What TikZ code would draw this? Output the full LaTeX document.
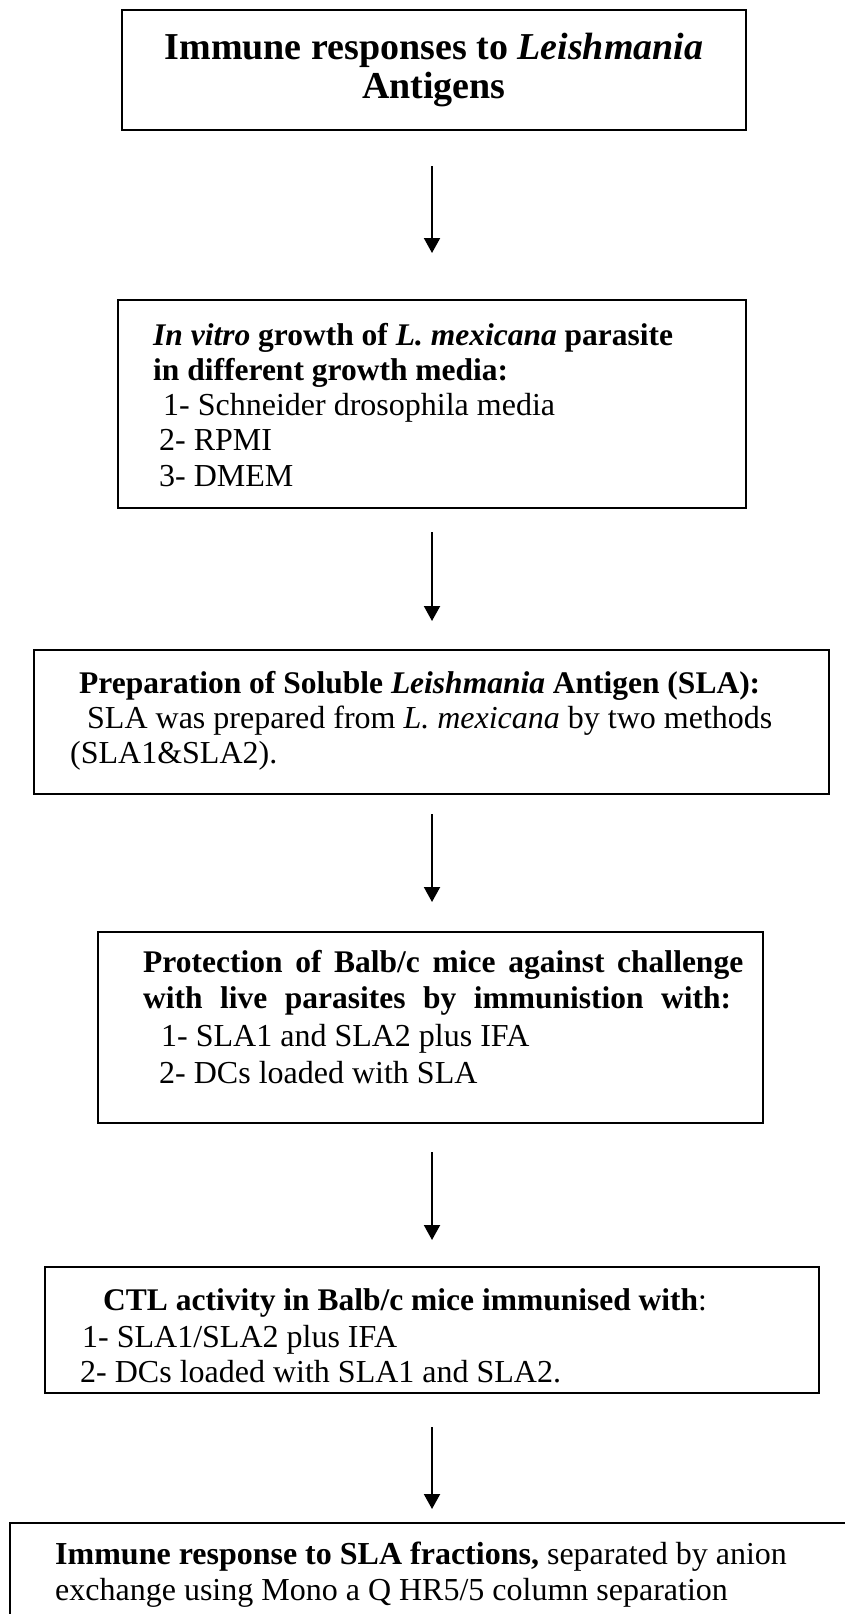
\documentclass[tikz,border=0pt]{standalone}
\usepackage{fontspec}
\setmainfont{Liberation Serif}
\usetikzlibrary{arrows.meta}
\begin{document}
\begin{tikzpicture}[x=1pt,y=-1pt,
  box/.style={draw, line width=2pt, rectangle, inner sep=0pt},
  ln/.style={anchor=base west, inner sep=0pt, font=\fontsize{32}{36}\selectfont},
  bl/.style={anchor=base west, inner sep=0pt, font=\fontsize{31.5}{36}\selectfont\bfseries},
  ttl/.style={anchor=base, inner sep=0pt, font=\fontsize{38}{42}\selectfont\bfseries},
  arr/.style={line width=2pt, -{Triangle[width=16pt,length=15pt]}}]
\clip (0,0) rectangle (845,1614);
\fill[white] (0,0) rectangle (845,1614);

% boxes
\node[box, minimum width=624, minimum height=120] (b1) at (434,70) {};
\node[box, minimum width=628, minimum height=208] (b2) at (432,404) {};
\node[box, minimum width=795, minimum height=144] (b3) at (431.5,722) {};
\node[box, minimum width=665, minimum height=191] (b4) at (430.5,1027.5) {};
\node[box, minimum width=774, minimum height=126] (b5) at (432,1330) {};
\node[box, minimum width=860, minimum height=127] (b6) at (440,1586.5) {};

% title
\node[ttl] (t1) at (434,59) {Immune responses to \textit{Leishmania}};
\node[ttl] (t2) at (434,98) {Antigens};

% growth media
\node[bl] (g1) at (153,345) {\textit{In vitro} growth of \textit{L. mexicana} parasite};
\node[bl] (g2) at (153,380) {in different growth media:};
\node[ln] (g3) at (163,415) {1- Schneider drosophila media};
\node[ln] (g4) at (159,450) {2- RPMI};
\node[ln] (g5) at (159,486) {3- DMEM};

% SLA preparation
\node[bl] (p1) at (79,693) {Preparation of Soluble \textit{Leishmania} Antigen (SLA):};
\node[ln] (p2) at (87,728) {SLA was prepared from \textit{L. mexicana} by two methods};
\node[ln] (p3) at (70,763) {(SLA1\&SLA2).};

% protection
\node[bl] (r1) at (143,972) {\makebox[600pt][s]{Protection of Balb/c mice against challenge}};
\node[bl] (r2) at (143,1008) {\makebox[588pt][s]{with live parasites by immunistion with:}};
\node[ln] (r3) at (161,1046) {1- SLA1 and SLA2 plus IFA};
\node[ln] (r4) at (159,1083) {2- DCs loaded with SLA};

% CTL activity
\node[bl] (c1) at (103,1310) {CTL activity in Balb/c mice immunised with\textmd{:}};
\node[ln] (c2) at (82,1347) {1- SLA1/SLA2 plus IFA};
\node[ln] (c3) at (80,1382) {2- DCs loaded with SLA1 and SLA2.};

% fractions
\node[ln] (f1) at (55,1564) {\textbf{Immune response to SLA fractions,} separated by anion};
\node[ln] (f2) at (55,1600) {exchange using Mono a Q HR5/5 column separation};

% connectors
\coordinate (ax) at (432,0);
\draw[arr, shorten <=35pt, shorten >=46pt] (b1.south -| ax) -- (b2.north -| ax);
\draw[arr, shorten <=23pt, shorten >=28pt] (b2.south -| ax) -- (b3.north -| ax);
\draw[arr, shorten <=19pt, shorten >=29pt] (b3.south -| ax) -- (b4.north -| ax);
\draw[arr, shorten <=28pt, shorten >=26pt] (b4.south -| ax) -- (b5.north -| ax);
\draw[arr, shorten <=33pt, shorten >=13pt] (b5.south -| ax) -- (b6.north -| ax);
\end{tikzpicture}
\end{document}
